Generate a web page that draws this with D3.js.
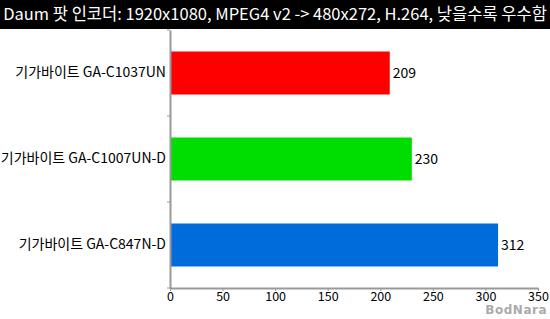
<!DOCTYPE html>
<html>
<head>
<meta charset="utf-8">
<script src="https://cdn.jsdelivr.net/npm/d3@7"></script>
<style>
  body { margin: 0; background: #fff; }
  text { font-family: "Noto Sans CJK KR", "Noto Sans", sans-serif; }
</style>
</head>
<body>
<div id="chart"></div>
<script>
var titleText = "Daum 팟 인코더: 1920x1080, MPEG4 v2 -> 480x272, H.264, 낮을수록 우수함";
var boards = ["기가바이트 GA-C1037UN", "기가바이트 GA-C1007UN-D", "기가바이트 GA-C847N-D"];
var seconds = [209, 230, 312];
var barColors = ["#ff0000", "#00dd00", "#006bdb"];
var xTicks = [0, 50, 100, 150, 200, 250, 300, 350];

var W = 550, H = 319;
var margin = { top: 30, right: 12, bottom: 31, left: 170 };
var width = W - margin.left - margin.right,
    height = H - margin.top - margin.bottom;

var svg = d3.select("#chart")
    .append("svg")
    .attr("width", W)
    .attr("height", H);

// title bar
svg.append("rect")
    .attr("x", 0).attr("y", 0)
    .attr("width", W).attr("height", 29)
    .attr("fill", "#000");
svg.append("text")
    .attr("x", W / 2)
    .attr("y", 20)
    .attr("text-anchor", "middle")
    .attr("fill", "#fff")
    .style("font-size", "16.5px")
    .text(titleText);

var g = svg.append("g")
    .attr("transform", "translate(" + margin.left + "," + margin.top + ")");

var x = d3.scaleLinear().domain([0, 350]).range([0, width]);
var y = d3.scaleBand().domain(boards).range([0, height]).paddingInner(0.5).paddingOuter(0.25);

g.selectAll(".bar")
    .data(boards)
    .enter()
    .append("rect")
    .attr("class", "bar")
    .attr("x", 0)
    .attr("y", function (d) { return y(d); })
    .attr("width", function (d, i) { return x(seconds[i]); })
    .attr("height", y.bandwidth())
    .attr("fill", function (d, i) { return barColors[i]; });

g.selectAll(".val")
    .data(boards)
    .enter()
    .append("text")
    .attr("class", "val")
    .attr("x", function (d, i) { return x(seconds[i]) + 3; })
    .attr("y", function (d) { return y(d) + y.bandwidth() / 2; })
    .attr("dy", "0.36em")
    .style("font-size", "14px")
    .attr("fill", "#000")
    .text(function (d, i) { return seconds[i]; });

// x axis
var xAxis = g.append("g")
    .attr("transform", "translate(0," + height + ")")
    .call(d3.axisBottom(x).tickValues(xTicks).tickSize(3).tickSizeOuter(0));
xAxis.select(".domain").attr("stroke", "#999").attr("stroke-width", 2);
xAxis.selectAll(".tick line").attr("stroke", "#999");
xAxis.selectAll(".tick text")
    .attr("y", 4)
    .style("font-size", "12.5px")
    .style("font-family", "\"Noto Sans CJK KR\", sans-serif")
    .attr("fill", "#000");

// y axis
var yAxis = g.append("g")
    .call(d3.axisLeft(y).tickSize(0).tickPadding(4));
yAxis.select(".domain").attr("stroke", "#999").attr("stroke-width", 2);
yAxis.selectAll(".tick text")
    .style("font-size", "14px")
    .style("font-family", "\"Noto Sans CJK KR\", sans-serif")
    .attr("fill", "#000");

// separator ticks between categories
var sep = [0].concat(boards.map(function (d) { return y(d) + y.bandwidth() + y.step() * 0.25; }));
g.selectAll(".sep")
    .data(sep)
    .enter()
    .append("line")
    .attr("x1", -3).attr("x2", 0)
    .attr("y1", function (d) { return d; })
    .attr("y2", function (d) { return d; })
    .attr("stroke", "#999");

// watermark
svg.append("text")
    .attr("x", 547)
    .attr("y", 314)
    .attr("text-anchor", "end")
    .attr("fill", "#aaa")
    .style("font-size", "12px")
    .style("font-weight", "bold")
    .style("letter-spacing", "0.5px")
    .style("font-family", "\"DejaVu Sans\", sans-serif")
    .text("BodNara");
</script>
</body>
</html>
